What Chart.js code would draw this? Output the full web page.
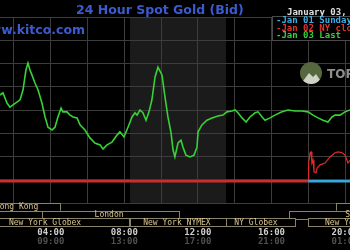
<!DOCTYPE html>
<html>
<head>
<meta charset="utf-8">
<script src="https://cdn.jsdelivr.net/npm/chart.js@4.4.1/dist/chart.umd.min.js"></script>
<style>
  html, body { margin: 0; padding: 0; background: #000; }
  #wrap { width: 350px; height: 250px; overflow: hidden; }
</style>
</head>
<body>
<div id="wrap"><canvas id="gold-chart" width="350" height="250"></canvas></div>
<script>
// times are New York hours (decimal), prices in USD
const green_hours = [1.24, 1.40, 1.62, 1.78, 1.95, 2.16, 2.33, 2.49, 2.65, 2.76, 2.87, 2.98, 3.14, 3.31, 3.52,
  3.69, 3.85, 4.07, 4.23, 4.39, 4.56, 4.66, 4.88, 5.05, 5.21, 5.43, 5.59, 5.86, 6.13, 6.40, 6.68, 6.84, 7.06,
  7.33, 7.60, 7.76, 7.98, 8.20, 8.42, 8.58, 8.69, 8.85, 9.01, 9.18, 9.34, 9.50, 9.67, 9.83, 10.05, 10.21,
  10.37, 10.54, 10.65, 10.75, 10.92, 11.08, 11.19, 11.35, 11.57, 11.79, 11.95, 12.01, 12.22, 12.49, 12.77,
  13.09, 13.36, 13.58, 13.85, 14.02, 14.18, 14.40, 14.62, 14.83, 15.11, 15.27, 15.49, 15.65, 15.92, 16.19,
  16.57, 16.90, 17.28, 17.66, 17.99, 18.26, 18.53, 18.80, 19.07, 19.29, 19.46, 19.73, 20.00, 20.27];
const green_prices = [1843.2, 1843.7, 1841.5, 1840.6, 1841.1, 1841.7, 1842.2, 1844.3, 1848.6, 1850.1, 1848.6,
  1847.5, 1845.8, 1844.3, 1841.5, 1838.5, 1836.3, 1835.7, 1836.3, 1838.5, 1840.4, 1839.6, 1839.6, 1838.9,
  1838.5, 1838.3, 1836.8, 1835.7, 1834.0, 1832.9, 1832.5, 1831.6, 1832.5, 1833.1, 1834.6, 1835.3, 1834.2,
  1836.3, 1838.5, 1839.4, 1838.9, 1840.0, 1839.4, 1837.8, 1839.6, 1842.2, 1847.1, 1849.2, 1847.5, 1842.8,
  1838.5, 1835.1, 1831.4, 1829.9, 1832.9, 1833.5, 1832.0, 1830.3, 1829.9, 1830.3, 1832.0, 1835.3, 1836.8,
  1837.8, 1838.3, 1838.7, 1838.9, 1839.6, 1839.8, 1840.0, 1839.4, 1838.3, 1837.4, 1838.5, 1839.4, 1839.6,
  1838.5, 1837.8, 1838.3, 1838.9, 1839.6, 1840.0, 1839.8, 1839.8, 1839.6, 1838.9, 1838.3, 1837.8, 1837.4,
  1838.5, 1838.9, 1838.9, 1839.6, 1840.0];
const red_hours = [18.00, 18.02, 18.10, 18.15, 18.20, 18.26, 18.31, 18.42, 18.48, 18.64, 18.91, 19.18, 19.46,
  19.62, 19.84, 20.00, 20.16, 20.27];
const red_prices = [1824.7, 1828.6, 1830.8, 1831.0, 1828.6, 1829.2, 1826.7, 1826.5, 1827.5, 1828.2, 1828.6,
  1829.9, 1830.8, 1831.0, 1830.8, 1830.3, 1828.6, 1829.2];
const ny_close = 1824.7;
const prior_start = 18;

const hour_min = 1.24, hour_max = 20.27;
const price_min = 1820, price_max = 1860;
const grid_hours = [2, 4, 6, 8, 10, 12, 14, 16, 18, 20];
const grid_prices = [1820, 1825, 1830, 1835, 1840, 1845, 1850, 1855, 1860];

const label_hours = [4, 8, 12, 16, 20];
const ny_labels = ['04:00', '08:00', '12:00', '16:00', '20:00'];
const gmt_labels = ['09:00', '13:00', '17:00', '21:00', '01:00'];

const nymex_open = 8.31, nymex_close = 13.53;

const session_names = ['Hong Kong', '', 'London', 'Sydney', 'New York Globex', 'New York NYMEX', 'NY Globex', 'New York Globex'];
const session_rows = [0, 0, 1, 1, 2, 2, 2, 2];
const session_starts = [-3, 19.51, 3.52, 16.95, -3, 8.31, 13.53, 18.0];
const session_ends = [4.50, 24, 10.97, 24, 8.25, 13.53, 17.28, 24];
const session_label_hours = [2.14, 21, 7.17, 20.8, 3.69, 10.86, 15.16, 20.87];

const legend_date = 'January 03, 2023';
const legend_texts = ['-Jan 01 Sunday', '-Jan 02 NY close', '-Jan 03 Last'];
const legend_colors = ['#3aaee6', '#e03030', '#34d034'];

const kitco_plugin = {
  id: 'kitco',
  beforeDraw(chart) {
    const c = chart.ctx, a = chart.chartArea, x = chart.scales.x;
    c.save();
    c.fillStyle = '#000';
    c.fillRect(0, 0, chart.width, chart.height);
    c.fillStyle = '#1b1b1b';
    const x0 = x.getPixelForValue(nymex_open), x1 = x.getPixelForValue(nymex_close);
    c.fillRect(x0, a.top, x1 - x0, a.bottom - a.top);
    c.restore();
  },
  afterDraw(chart) {
    const c = chart.ctx, a = chart.chartArea, x = chart.scales.x;
    c.save();

    // titles
    c.fillStyle = '#3b5bd1';
    c.font = 'bold 12.5px "DejaVu Sans"';
    c.textAlign = 'left';
    c.textBaseline = 'alphabetic';
    c.fillText('24 Hour Spot Gold (Bid)', 76, 14);
    c.textAlign = 'right';
    c.fillText('www.kitco.com', 85, 34);

    // legend box
    c.fillStyle = '#000';
    c.fillRect(272, 17, 80, 23);
    c.strokeStyle = '#4a4a4a';
    c.lineWidth = 1;
    c.strokeRect(272.5, 16.5, 90, 24);
    c.textAlign = 'left';
    c.textBaseline = 'middle';
    c.font = 'bold 9px "DejaVu Sans Mono"';
    c.fillStyle = '#e0e0e0';
    c.fillText(legend_date, 287, 12.5);
    legend_texts.forEach((t, i) => {
      c.fillStyle = legend_colors[i];
      c.fillText(t, 276, 21 + i * 7.5);
    });

    // watermark
    c.fillStyle = '#56683e';
    c.beginPath();
    c.arc(311, 73, 11, 0, Math.PI * 2);
    c.fill();
    c.fillStyle = '#cfd3c4';
    c.beginPath();
    c.moveTo(303, 81); c.lineTo(309, 73); c.lineTo(313, 77); c.lineTo(316, 74); c.lineTo(320, 80);
    c.arc(311, 73, 11, 0.6, Math.PI - 0.75);
    c.fill();
    c.fillStyle = '#8f8f8f';
    c.font = 'bold 12px "DejaVu Sans"';
    c.textBaseline = 'alphabetic';
    c.fillText('TOP', 327, 78);

    // trading sessions
    const row_top = a.bottom, row_h = 7.7;
    c.font = '8px "DejaVu Sans Mono"';
    c.textAlign = 'center';
    c.textBaseline = 'middle';
    session_names.forEach((name, i) => {
      const y = row_top + session_rows[i] * row_h;
      const xs = x.getPixelForValue(session_starts[i]);
      const xe = x.getPixelForValue(session_ends[i]);
      c.fillStyle = '#000';
      c.fillRect(xs, y, xe - xs, row_h);
      c.strokeStyle = '#8a8268';
      c.strokeRect(Math.round(xs) + 0.5, Math.round(y) + 0.5, Math.round(xe - xs), Math.round(row_h));
      c.fillStyle = '#d6c48e';
      c.fillText(name, x.getPixelForValue(session_label_hours[i]), y + row_h / 2 + 0.5);
    });

    // time labels
    c.font = 'bold 9px "DejaVu Sans Mono"';
    label_hours.forEach((h, i) => {
      const px = x.getPixelForValue(h);
      c.fillStyle = '#cfcfcf';
      c.fillText(ny_labels[i], px, 233);
      c.fillStyle = '#505050';
      c.fillText(gmt_labels[i], px, 242);
    });
    c.restore();
  }
};

const to_points = (xs, ys) => xs.map((h, i) => ({ x: h, y: ys[i] }));

new Chart(document.getElementById('gold-chart'), {
  type: 'line',
  data: {
    datasets: [
      { data: to_points([prior_start, hour_max], [ny_close, ny_close]), borderColor: '#3aa6da', borderWidth: 2.5 },
      { data: to_points([hour_min, prior_start], [ny_close, ny_close]), borderColor: '#c83030', borderWidth: 2.5 },
      { data: to_points(red_hours, red_prices), borderColor: '#e02a2a', borderWidth: 1.2 },
      { data: to_points(green_hours, green_prices), borderColor: '#36d236', borderWidth: 1.6 }
    ]
  },
  options: {
    responsive: false,
    animation: false,
    elements: { point: { radius: 0 }, line: { tension: 0 } },
    layout: { padding: { top: 17, bottom: 47, left: 0, right: 0 } },
    plugins: { legend: { display: false }, tooltip: { enabled: false } },
    scales: {
      x: {
        type: 'linear', min: hour_min, max: hour_max,
        ticks: { display: false },
        grid: { color: '#3c3c3c', drawTicks: false },
        border: { display: false },
        afterBuildTicks: s => { s.ticks = grid_hours.map(v => ({ value: v })); }
      },
      y: {
        min: price_min, max: price_max,
        ticks: { display: false },
        grid: { color: '#3c3c3c', drawTicks: false },
        border: { display: false },
        afterBuildTicks: s => { s.ticks = grid_prices.map(v => ({ value: v })); }
      }
    }
  },
  plugins: [kitco_plugin]
});
</script>
</body>
</html>
